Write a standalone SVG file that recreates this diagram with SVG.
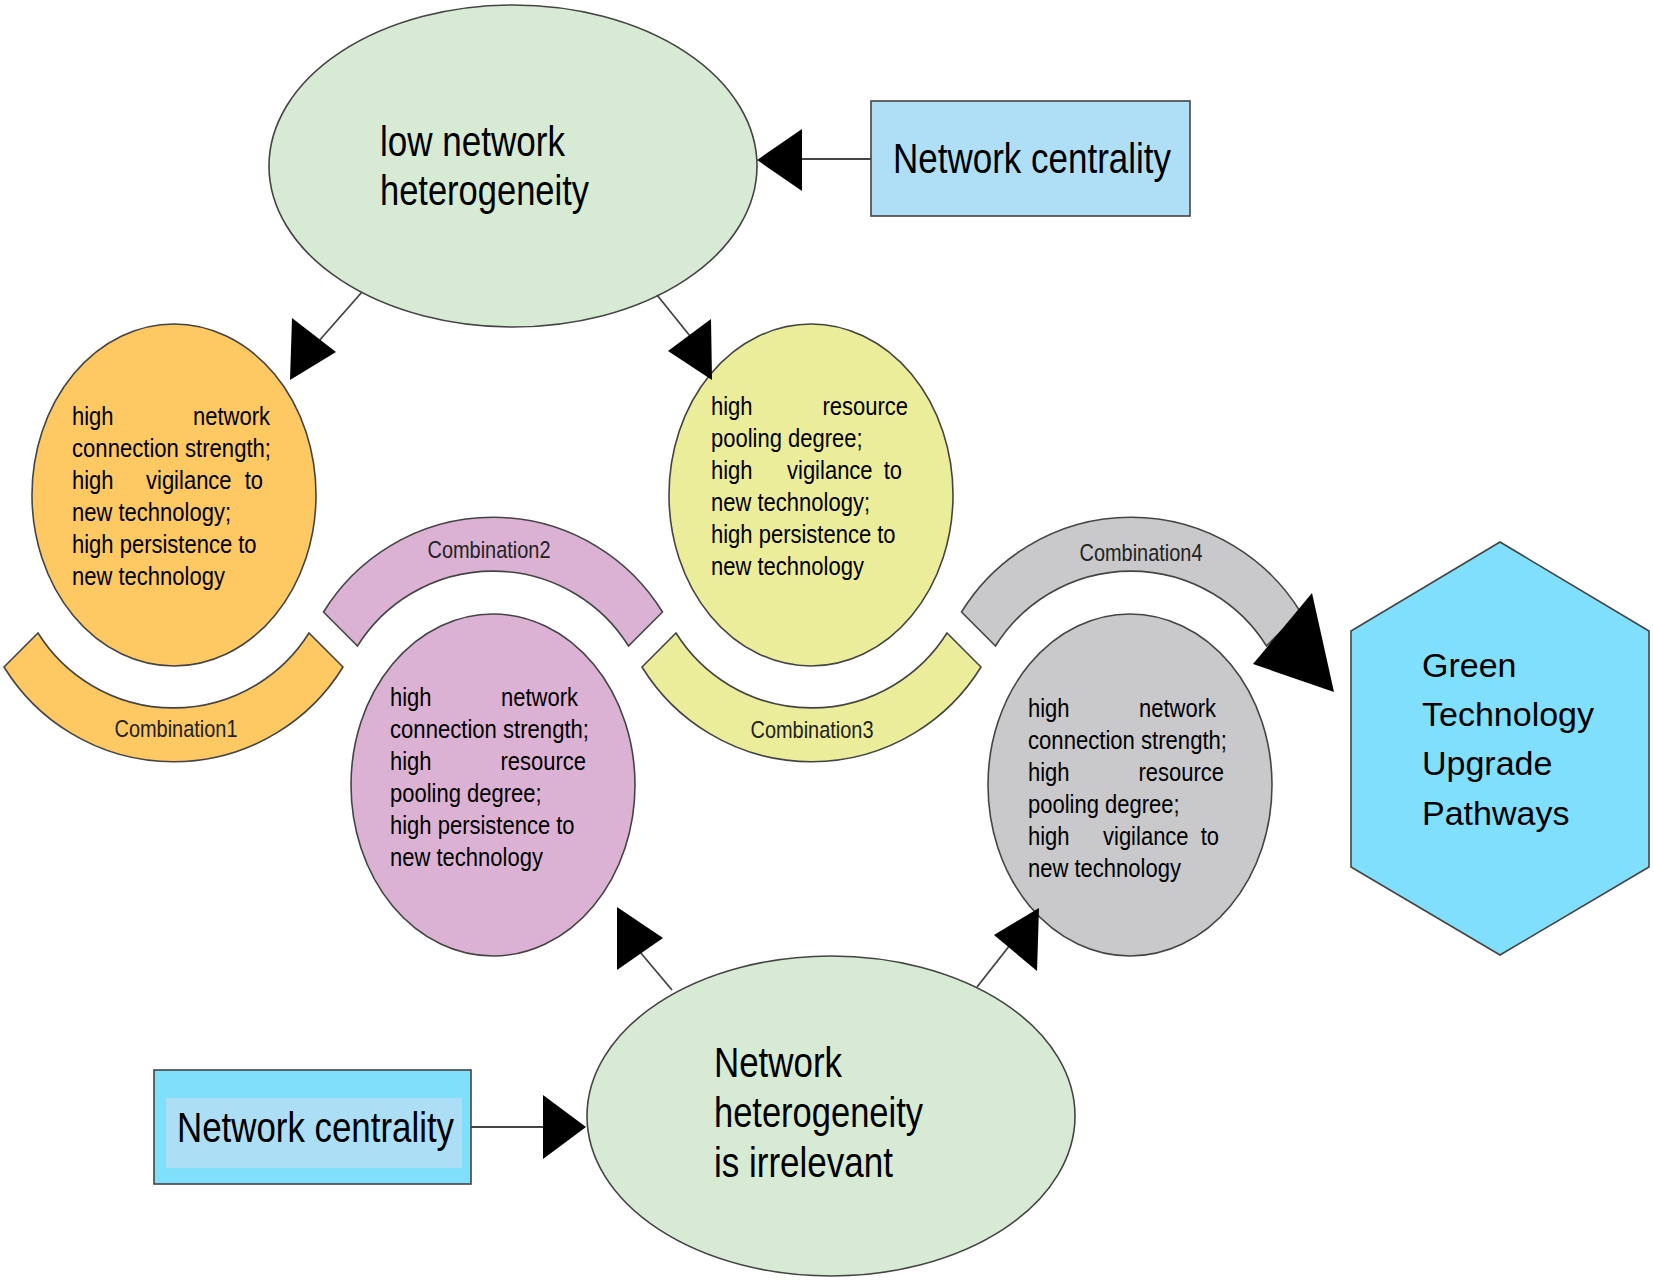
<svg xmlns="http://www.w3.org/2000/svg" width="1654" height="1281" viewBox="0 0 1654 1281">
<style>
.sh{stroke:#444;stroke-width:1.6}
.big{font-family:"Liberation Sans",Arial,sans-serif;font-size:42px;fill:#000}
.hx{font-family:"Liberation Sans",Arial,sans-serif;font-size:34px;fill:#000}
.sm{font-family:"Liberation Sans",Arial,sans-serif;font-size:25.5px;fill:#000}
.cb{font-family:"Liberation Sans",Arial,sans-serif;font-size:24.5px;fill:#222;text-anchor:middle}
.e{text-anchor:end}
.ln{stroke:#444;stroke-width:1.8;fill:none}
.ah{fill:#000}
</style>
<rect width="1654" height="1281" fill="#fff"/>

<g id="node-low-heterogeneity">
<ellipse class="sh" cx="513" cy="166" rx="244" ry="161" fill="#d7ead3"/>
<text class="big" x="380" y="156" textLength="185" lengthAdjust="spacingAndGlyphs">low network</text>
<text class="big" x="380" y="205" textLength="209" lengthAdjust="spacingAndGlyphs">heterogeneity</text>
</g>

<g id="node-centrality-top">
<rect class="sh" x="871" y="101" width="319" height="115" fill="#aedff6"/>
<text class="big" x="893" y="173" textLength="278" lengthAdjust="spacingAndGlyphs">Network centrality</text>
</g>

<g id="node-combination1">
<ellipse class="sh" cx="174" cy="495" rx="142" ry="171" fill="#fec963"/>
<text class="sm" x="72" y="425" textLength="41.6" lengthAdjust="spacingAndGlyphs">high</text><text class="sm e" x="270" y="425" textLength="77" lengthAdjust="spacingAndGlyphs">network</text>
<text class="sm" x="72" y="457" textLength="199" lengthAdjust="spacingAndGlyphs">connection strength;</text>
<text class="sm" x="72" y="489" textLength="41.6" lengthAdjust="spacingAndGlyphs">high</text><text class="sm" x="146" y="489" textLength="85.6" lengthAdjust="spacingAndGlyphs">vigilance</text><text class="sm e" x="263" y="489" textLength="18.3" lengthAdjust="spacingAndGlyphs">to</text>
<text class="sm" x="72" y="521" textLength="159" lengthAdjust="spacingAndGlyphs">new technology;</text>
<text class="sm" x="72" y="553" textLength="184.6" lengthAdjust="spacingAndGlyphs">high persistence to</text>
<text class="sm" x="72" y="585" textLength="152.9" lengthAdjust="spacingAndGlyphs">new technology</text>
<path class="sh" fill="#fec963" d="M4,667 L38,633 A160,160 0 0 0 309,633 L343,667 A199,199 0 0 1 4,667 Z"/>
<text class="cb" x="176" y="737" textLength="123" lengthAdjust="spacingAndGlyphs">Combination1</text>
</g>

<g id="node-combination3">
<ellipse class="sh" cx="811" cy="495" rx="142" ry="171" fill="#eced9a"/>
<text class="sm" x="711" y="415" textLength="41.6" lengthAdjust="spacingAndGlyphs">high</text><text class="sm e" x="908" y="415" textLength="85.6" lengthAdjust="spacingAndGlyphs">resource</text>
<text class="sm" x="711" y="447" textLength="151.6" lengthAdjust="spacingAndGlyphs">pooling degree;</text>
<text class="sm" x="711" y="479" textLength="41.6" lengthAdjust="spacingAndGlyphs">high</text><text class="sm" x="787" y="479" textLength="85.6" lengthAdjust="spacingAndGlyphs">vigilance</text><text class="sm e" x="902" y="479" textLength="18.3" lengthAdjust="spacingAndGlyphs">to</text>
<text class="sm" x="711" y="511" textLength="159" lengthAdjust="spacingAndGlyphs">new technology;</text>
<text class="sm" x="711" y="543" textLength="184.6" lengthAdjust="spacingAndGlyphs">high persistence to</text>
<text class="sm" x="711" y="575" textLength="152.9" lengthAdjust="spacingAndGlyphs">new technology</text>
<path class="sh" fill="#eced9a" d="M642,667 L676,633 A160,160 0 0 0 947,633 L981,667 A199,199 0 0 1 642,667 Z"/>
<text class="cb" x="812" y="738" textLength="123" lengthAdjust="spacingAndGlyphs">Combination3</text>
</g>

<g id="node-combination2">
<ellipse class="sh" cx="493" cy="785" rx="142" ry="171" fill="#dcb2d4"/>
<text class="sm" x="390" y="706" textLength="41.6" lengthAdjust="spacingAndGlyphs">high</text><text class="sm e" x="578" y="706" textLength="77" lengthAdjust="spacingAndGlyphs">network</text>
<text class="sm" x="390" y="738" textLength="199" lengthAdjust="spacingAndGlyphs">connection strength;</text>
<text class="sm" x="390" y="770" textLength="41.6" lengthAdjust="spacingAndGlyphs">high</text><text class="sm e" x="586" y="770" textLength="85.6" lengthAdjust="spacingAndGlyphs">resource</text>
<text class="sm" x="390" y="802" textLength="151.6" lengthAdjust="spacingAndGlyphs">pooling degree;</text>
<text class="sm" x="390" y="834" textLength="184.6" lengthAdjust="spacingAndGlyphs">high persistence to</text>
<text class="sm" x="390" y="866" textLength="152.9" lengthAdjust="spacingAndGlyphs">new technology</text>
<path class="sh" fill="#dcb2d4" d="M323.5,612 L357.5,646 A160,160 0 0 1 628.5,646 L662.5,612 A199,199 0 0 0 323.5,612 Z"/>
<text class="cb" x="489" y="558" textLength="123" lengthAdjust="spacingAndGlyphs">Combination2</text>
</g>

<g id="node-combination4">
<ellipse class="sh" cx="1130" cy="785" rx="142" ry="171" fill="#c9c9cb"/>
<text class="sm" x="1028" y="717" textLength="41.6" lengthAdjust="spacingAndGlyphs">high</text><text class="sm e" x="1216" y="717" textLength="77" lengthAdjust="spacingAndGlyphs">network</text>
<text class="sm" x="1028" y="749" textLength="199" lengthAdjust="spacingAndGlyphs">connection strength;</text>
<text class="sm" x="1028" y="781" textLength="41.6" lengthAdjust="spacingAndGlyphs">high</text><text class="sm e" x="1224" y="781" textLength="85.6" lengthAdjust="spacingAndGlyphs">resource</text>
<text class="sm" x="1028" y="813" textLength="151.6" lengthAdjust="spacingAndGlyphs">pooling degree;</text>
<text class="sm" x="1028" y="845" textLength="41.6" lengthAdjust="spacingAndGlyphs">high</text><text class="sm" x="1103" y="845" textLength="85.6" lengthAdjust="spacingAndGlyphs">vigilance</text><text class="sm e" x="1219" y="845" textLength="18.3" lengthAdjust="spacingAndGlyphs">to</text>
<text class="sm" x="1028" y="877" textLength="152.9" lengthAdjust="spacingAndGlyphs">new technology</text>
<path class="sh" fill="#c9c9cb" d="M961.5,612 L995.5,646 A160,160 0 0 1 1266.5,646 L1300.5,612 A199,199 0 0 0 961.5,612 Z"/>
<text class="cb" x="1141" y="561" textLength="123" lengthAdjust="spacingAndGlyphs">Combination4</text>
</g>

<g id="node-irrelevant">
<ellipse class="sh" cx="831" cy="1116" rx="244" ry="160" fill="#d7ead3"/>
<text class="big" x="714" y="1077" textLength="128" lengthAdjust="spacingAndGlyphs">Network</text>
<text class="big" x="714" y="1127" textLength="209" lengthAdjust="spacingAndGlyphs">heterogeneity</text>
<text class="big" x="714" y="1177" textLength="179" lengthAdjust="spacingAndGlyphs">is irrelevant</text>
</g>

<g id="node-centrality-bottom">
<rect class="sh" x="154" y="1070" width="317" height="114" fill="#80e0fc"/>
<rect x="166" y="1098" width="296" height="70" fill="#acdff5"/>
<text class="big" x="177" y="1142" textLength="277" lengthAdjust="spacingAndGlyphs">Network centrality</text>
</g>

<g id="node-green-pathways">
<polygon class="sh" points="1500,542 1649,631 1649,867 1500,955 1351,867 1351,631" fill="#80dffc"/>
<text class="hx" x="1422" y="677">Green</text>
<text class="hx" x="1422" y="726">Technology</text>
<text class="hx" x="1422" y="775">Upgrade</text>
<text class="hx" x="1422" y="825">Pathways</text>
</g>

<g id="connectors">
<line class="ln" x1="871" y1="159" x2="800" y2="159"/>
<polygon class="ah" points="757,160 802,129 802,191"/>
<line class="ln" x1="362" y1="292" x2="318" y2="342"/>
<polygon class="ah" points="292,318 290,380 336,352"/>
<line class="ln" x1="657" y1="295" x2="690" y2="336"/>
<polygon class="ah" points="711,319 668,351 712,380"/>
<polygon class="ah" points="1312,593 1253,664 1334,692"/>
<line class="ln" x1="672" y1="990" x2="640" y2="952"/>
<polygon class="ah" points="617,907 617,970 663,938"/>
<line class="ln" x1="977" y1="987" x2="1010" y2="945"/>
<polygon class="ah" points="1039,908 994,935 1037,971"/>
<line class="ln" x1="471" y1="1127" x2="545" y2="1127"/>
<polygon class="ah" points="586,1127 543,1095 543,1159"/>
</g>
</svg>
